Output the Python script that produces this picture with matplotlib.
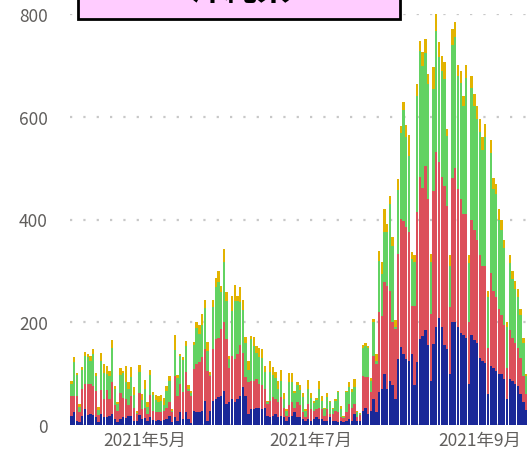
import numpy as np
import pandas as pd
import matplotlib
matplotlib.use("Agg")
import matplotlib.pyplot as plt
from matplotlib.patches import Rectangle

plt.rcParams["font.family"] = ["Noto Sans CJK JP", "DejaVu Sans"]

# 1. Data (daily counts, stacked bottom -> top), starting 2021-04-04
blue = [17, 25, 8, 6, 17, 32, 19, 21, 19, 15, 5, 21, 15, 15, 17, 21, 11, 6, 11, 15,
        13, 17, 17, 8, 8, 19, 11, 13, 8, 15, 10, 8, 10, 8, 10, 11, 17, 6, 15, 8,
        25, 12, 26, 12, 4, 28, 26, 25, 27, 47, 8, 28, 47, 50, 54, 57, 66, 41, 45, 51,
        44, 51, 57, 73, 57, 21, 31, 31, 34, 34, 31, 34, 18, 15, 18, 21, 15, 18, 15, 8,
        15, 18, 25, 15, 15, 12, 8, 12, 8, 12, 15, 12, 12, 8, 8, 15, 8, 8, 5, 8,
        5, 8, 12, 8, 21, 8, 8, 28, 34, 21, 28, 51, 25, 64, 70, 99, 70, 86, 77, 51,
        128, 151, 138, 128, 125, 138, 77, 122, 168, 174, 184, 155, 86, 158, 190, 209, 190, 155, 148, 100,
        200, 200, 190, 180, 175, 170, 80, 175, 165, 160, 130, 125, 120, 60, 115, 110, 105, 100, 100, 90,
        50, 90, 85, 80, 75, 60, 45, 30]
red = [39, 31, 48, 20, 53, 47, 60, 58, 56, 52, 14, 48, 36, 54, 34, 63, 28, 22, 51, 37,
       38, 22, 39, 26, 13, 43, 20, 21, 13, 43, 18, 17, 16, 17, 18, 23, 28, 19, 81, 49,
       55, 52, 77, 55, 53, 81, 93, 97, 105, 101, 98, 67, 101, 117, 116, 130, 134, 126, 65, 84,
       84, 87, 98, 68, 36, 62, 55, 55, 55, 46, 46, 36, 23, 32, 36, 30, 29, 36, 19, 10,
       23, 26, 9, 29, 23, 13, 7, 29, 23, 16, 16, 22, 19, 10, 23, 6, 13, 20, 20, 7,
       9, 17, 29, 26, 20, 7, 12, 68, 59, 72, 36, 84, 93, 155, 143, 179, 201, 175, 123, 136,
       205, 250, 260, 257, 250, 94, 155, 292, 314, 288, 320, 285, 130, 298, 341, 302, 292, 311, 279, 130,
       280, 300, 270, 260, 235, 240, 120, 225, 215, 200, 200, 185, 190, 90, 180, 150, 145, 125, 115, 105,
       60, 95, 85, 80, 75, 70, 50, 30]
green = [24, 66, 41, 10, 38, 56, 53, 46, 63, 28, 11, 56, 50, 30, 44, 65, 31, 13, 35, 49,
         33, 31, 37, 24, 3, 42, 18, 37, 15, 39, 30, 24, 19, 22, 11, 33, 41, 3, 50, 34,
         54, 63, 51, 3, 5, 47, 69, 55, 62, 79, 39, 2, 81, 101, 108, 71, 118, 75, 18, 87,
         114, 104, 84, 82, 66, 24, 81, 68, 52, 52, 53, 33, 3, 56, 44, 40, 26, 32, 17, 9,
         46, 40, 28, 33, 31, 29, 13, 29, 21, 15, 18, 36, 16, 13, 23, 23, 10, 19, 39, 16,
         2, 39, 32, 30, 32, 10, 2, 54, 61, 57, 22, 65, 7, 100, 81, 97, 104, 169, 149, 3,
         124, 168, 216, 175, 149, 91, 85, 227, 246, 237, 221, 224, 101, 198, 236, 205, 208, 207, 136, 80,
         260, 255, 220, 225, 210, 265, 115, 255, 240, 235, 240, 225, 250, 100, 235, 200, 200, 175, 165, 150,
         80, 130, 115, 105, 100, 85, 65, 35]
gold = [6, 10, 4, 5, 5, 8, 6, 9, 10, 7, 5, 16, 18, 15, 11, 17, 6, 4, 13, 5,
        30, 14, 19, 15, 4, 13, 11, 17, 8, 11, 6, 9, 12, 11, 13, 9, 9, 4, 30, 6,
        4, 5, 10, 8, 4, 5, 13, 17, 22, 17, 17, 6, 15, 19, 21, 13, 24, 16, 7, 30,
        30, 10, 30, 21, 13, 18, 7, 18, 13, 18, 17, 12, 3, 22, 14, 13, 16, 22, 11, 4,
        17, 17, 5, 6, 9, 8, 3, 18, 11, 4, 4, 16, 9, 3, 8, 3, 2, 3, 3, 6,
        2, 3, 11, 6, 16, 3, 2, 6, 6, 4, 6, 6, 13, 20, 23, 45, 16, 16, 17, 14,
        22, 13, 14, 24, 41, 13, 13, 23, 20, 27, 26, 19, 15, 42, 33, 29, 29, 33, 13, 20,
        30, 30, 20, 25, 20, 25, 15, 25, 25, 25, 25, 25, 25, 10, 25, 20, 20, 20, 20, 15,
        10, 15, 15, 15, 15, 10, 10, 5]

dates = pd.date_range("2021-04-04", periods=len(blue), freq="D")
tick_dates = pd.to_datetime(["2021-05-01", "2021-07-01", "2021-09-01"])
tick_labels = ["2021年5月", "2021年7月", "2021年9月"]
title = "沖縄県"

colors = ["#1a2898", "#dc4f5a", "#62d262", "#e2b300"]

# 2. Figure
fig = plt.figure(figsize=(5.28, 4.52), dpi=100)
ax = fig.add_axes([70 / 528, 26 / 452, 458 / 528, 411 / 452])

x = np.arange(len(blue))
bottom = np.zeros(len(blue))
for vals, c in zip([blue, red, green, gold], colors):
    ax.bar(x, vals, width=0.86, bottom=bottom, color=c, linewidth=0, zorder=3)
    bottom += np.array(vals)

ax.set_xlim(-0.5, len(blue) - 0.3)
ax.set_ylim(0, 800)
ax.set_yticks([0, 200, 400, 600, 800])
ax.yaxis.grid(True, color="#c8c8c8", linestyle=(0, (1, 5)), linewidth=1.6, zorder=0)
ax.axhline(0, color="#c8c8c8", linestyle=(0, (1, 5)), linewidth=1.6, zorder=2)

tick_pos = [(d - dates[0]).days for d in tick_dates]
ax.set_xticks(tick_pos)
ax.set_xticklabels(tick_labels)
ax.tick_params(axis="both", length=0, labelsize=12.5, colors="#605e5c")
ax.tick_params(axis="y", pad=16)
ax.tick_params(axis="x", pad=4)
for s in ax.spines.values():
    s.set_visible(False)

# title box, mostly cut off at the top edge
fig.patches.append(Rectangle((78 / 528, 432 / 452), 322 / 528, 0.2, transform=fig.transFigure,
                             facecolor="#ffccff", edgecolor="black", linewidth=2, zorder=10))
fig.text(240 / 528, 461.5 / 452, title, ha="center", va="center", fontsize=24,
         fontweight="bold", color="black", zorder=11)

fig.savefig("out.png", dpi=100)
